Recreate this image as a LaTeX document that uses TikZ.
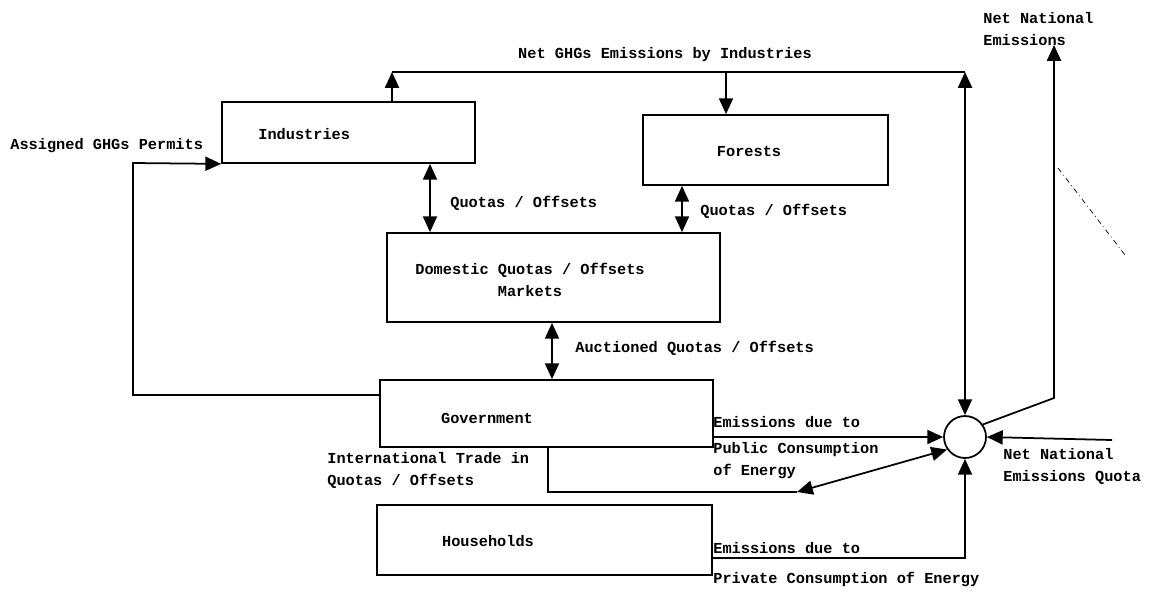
\documentclass[tikz,border=0pt]{standalone}
\usepackage{fontspec}
\newfontfamily\dotfont{Liberation Mono}
\usepackage{tikz}
\usetikzlibrary{arrows.meta,calc,positioning}
\tikzstyle{blk}=[rectangle, draw, line width=1pt, inner sep=0pt]
\tikzstyle{txt}=[font=\dotfont\bfseries\fontsize{8.7}{12.5}\selectfont, inner sep=0pt, align=left]
\tikzstyle{arr}=[line width=1pt, -{Triangle[length=9pt,width=8pt]}]
\tikzstyle{dbl}=[line width=1pt, {Triangle[length=9pt,width=8pt]}-{Triangle[length=9pt,width=8pt]}]
\tikzstyle{wire}=[line width=1pt]

\begin{document}
\begin{tikzpicture}[x=0.02cm,y=-0.02cm]
	\useasboundingbox (0,0) rectangle (1165,596);

	%%% boxes
	\node[blk,minimum width=5.06cm,minimum height=1.22cm] (ind) at (348.5,132.5) {};
	\node[blk,minimum width=4.9cm,minimum height=1.4cm] (for) at (765.5,150) {};
	\node[blk,minimum width=6.66cm,minimum height=1.78cm] (dom) at (553.5,277.5) {};
	\node[blk,minimum width=6.66cm,minimum height=1.34cm] (gov) at (546.5,413.5) {};
	\node[blk,minimum width=6.7cm,minimum height=1.4cm] (hh) at (544.5,540) {};
	\node[circle,draw,line width=1pt,minimum size=0.84cm,inner sep=0pt] (sum) at (965,437) {};

	% box texts
	\node[txt,anchor=west] (indLabel) at (258,134) {Industries};
	\node[txt] (forLabel) at (749,151) {Forests};
	\node[txt,align=center] (domLabel) at (530,280) {Domestic Quotas / Offsets\\Markets};
	\node[txt] (govLabel) at (487,418) {Government};
	\node[txt] (hhLabel) at (488,541) {Households};

	%%% top row - industry emissions
	\coordinate (tl) at (392,72);
	\coordinate (tr) at (965,72);
	\coordinate (fd) at (726,72);
	\draw[arr] (ind.north -| tl) -- (tl);
	\draw[wire] (tl) -- (tr);
	\draw[arr] (fd) -- (fd |- for.north);
	\draw[dbl] (tr) -- (sum.north);
	\node[txt] (netInd) at (665,55) {Net GHGs Emissions by Industries};

	%%% quota markets
	\coordinate (q1) at (430,0);
	\coordinate (q2) at (682,0);
	\coordinate (q3) at (552,0);
	\draw[dbl] (ind.south -| q1) -- (dom.north -| q1);
	\draw[dbl] (for.south -| q2) -- (dom.north -| q2);
	\draw[dbl] (dom.south -| q3) -- (gov.north -| q3);
	\node[txt,anchor=west] (q1Label) at (450,203) {Quotas / Offsets};
	\node[txt,anchor=west] (q2Label) at (700,211) {Quotas / Offsets};
	\node[txt,anchor=west] (q3Label) at (575,348) {Auctioned Quotas / Offsets};

	%%% permits loop
	\coordinate (lb) at (133,395);
	\coordinate (lt) at (133,163);
	\draw[arr] (lb -| gov.west) -- (lb) -- (lt) -- (ind.south west);
	\node[txt,anchor=west] (permits) at (10,146) {Assigned GHGs Permits};

	%%% government emissions and trade
	\draw[arr] (gov.east |- sum.west) -- (sum.west);
	\node[txt,anchor=west] (pubA) at (713,422) {Emissions due to};
	\node[txt,anchor=west] (pubB) at (713,461) {Public Consumption\\of Energy};

	\coordinate (it) at (548,492);
	\coordinate (ia) at (797,492);
	\draw[wire] (it |- gov.south) -- (it) -- (ia);
	\draw[dbl] (ia) -- (sum.215);
	\node[txt,anchor=west] (trade) at (327,470) {International Trade in\\Quotas / Offsets};

	%%% households
	\coordinate (hc) at (965,558);
	\draw[arr] (hh.east |- hc) -- (hc) -- (sum.south);
	\node[txt,anchor=west] (privA) at (713,548) {Emissions due to};
	\node[txt,anchor=west] (privB) at (713,579) {Private Consumption of Energy};

	%%% national balance
	\coordinate (qe) at (1112,440);
	\draw[arr] (qe) -- (sum.east);
	\node[txt,anchor=west] (quota) at (1003,466) {Net National\\Emissions Quota};

	\coordinate (nb) at (1054,398);
	\coordinate (nt) at (1054,45);
	\draw[arr] (sum.35) -- (nb) -- (nt);
	\node[txt,anchor=west] (netNat) at (983,29) {Net National\\Emissions};

	% stray mark
	\draw[thin,dash dot] (1058,168) -- (1125,255);
\end{tikzpicture}
\end{document}
